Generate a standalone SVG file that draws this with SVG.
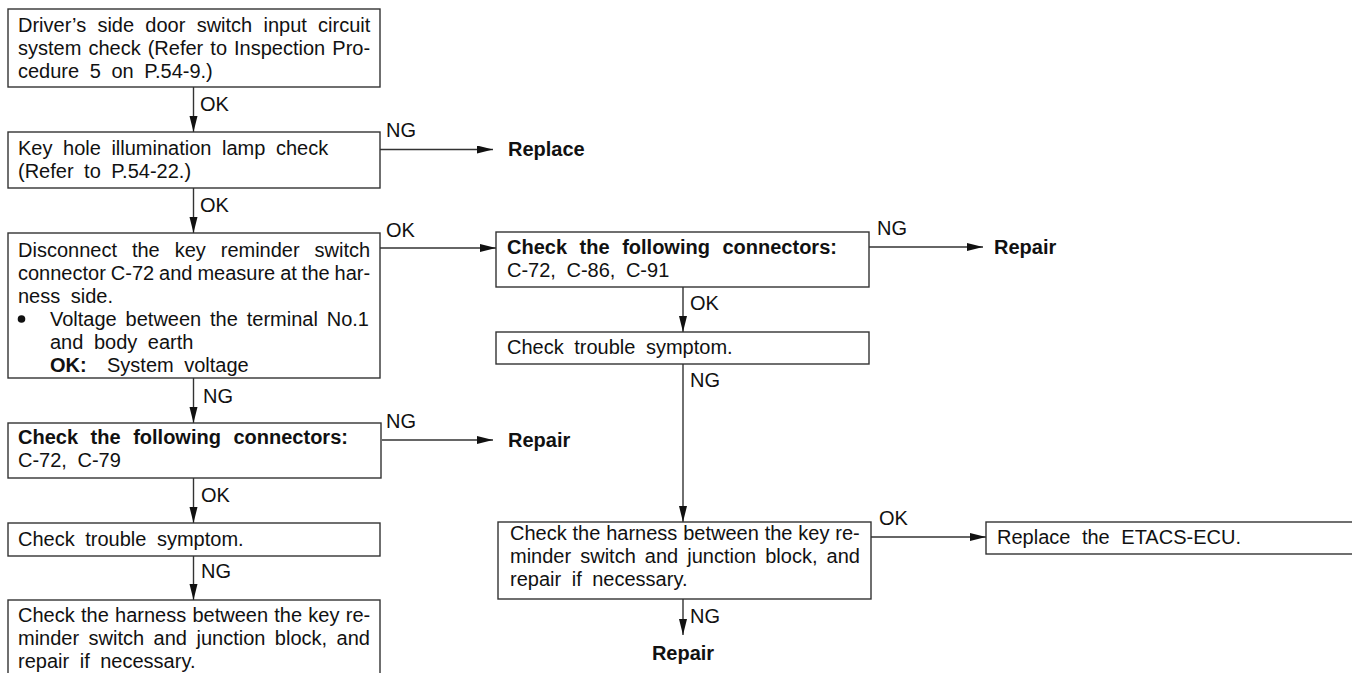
<svg xmlns="http://www.w3.org/2000/svg" width="1352" height="673" viewBox="0 0 1352 673">
<style>
text{font-family:"Liberation Sans",Arial,Helvetica,sans-serif;font-size:20px;fill:#111;word-spacing:5px}
.b{font-weight:bold}
.box{fill:#fff;stroke:#333;stroke-width:1.4}
.c{stroke:#333;stroke-width:1.4;fill:none;marker-end:url(#ah)}
</style>
<defs>
<marker id="ah" markerUnits="userSpaceOnUse" markerWidth="17" markerHeight="9" refX="16" refY="4" orient="auto">
<path d="M0,0 L16,4 L0,8 z" fill="#111"/>
</marker>
</defs>
<rect width="1352" height="673" fill="#fff"/>

<g id="connectors">
<line class="c" x1="193.5" y1="87" x2="193.5" y2="132"/>
<line class="c" x1="380" y1="149.5" x2="493" y2="149.5"/>
<line class="c" x1="193.5" y1="188" x2="193.5" y2="233"/>
<line class="c" x1="380" y1="248" x2="496" y2="248"/>
<line class="c" x1="869" y1="247" x2="983" y2="247"/>
<line class="c" x1="683" y1="287" x2="683" y2="332"/>
<line class="c" x1="683" y1="364" x2="683" y2="522"/>
<line class="c" x1="871" y1="537" x2="986" y2="537"/>
<line class="c" x1="683" y1="599" x2="683" y2="635"/>
<line class="c" x1="193.5" y1="378" x2="193.5" y2="423"/>
<line class="c" x1="382" y1="440" x2="493" y2="440"/>
<line class="c" x1="193.5" y1="478" x2="193.5" y2="523"/>
<line class="c" x1="193.5" y1="556" x2="193.5" y2="600"/>
<text x="200" y="111">OK</text>
<text x="386" y="137">NG</text>
<text x="200" y="212">OK</text>
<text x="386" y="237">OK</text>
<text x="877" y="235">NG</text>
<text x="690" y="310">OK</text>
<text x="690" y="387">NG</text>
<text x="203" y="403">NG</text>
<text x="386" y="428">NG</text>
<text x="201" y="502">OK</text>
<text x="201" y="578">NG</text>
<text x="879" y="525">OK</text>
<text x="690" y="623">NG</text>
</g>

<g id="n1">
<rect class="box" x="8" y="9" width="372" height="78"/>
<text x="18" y="32" style="word-spacing:5.7px">Driver’s side door switch input circuit</text>
<text x="18" y="55" style="word-spacing:1.5px">system check (Refer to Inspection Pro-</text>
<text x="18" y="78">cedure 5 on P.54-9.)</text>
</g>

<g id="n2">
<rect class="box" x="8" y="132" width="372" height="56"/>
<text x="18" y="155">Key hole illumination lamp check</text>
<text x="18" y="178">(Refer to P.54-22.)</text>
</g>

<g id="r1"><text class="b" x="508" y="156">Replace</text></g>

<g id="n3">
<rect class="box" x="8" y="233" width="372" height="145"/>
<text x="18" y="257" style="word-spacing:9.4px">Disconnect the key reminder switch</text>
<text x="18" y="280" style="word-spacing:-0.6px">connector C-72 and measure at the har-</text>
<text x="18" y="303">ness side.</text>
<circle cx="21.5" cy="319" r="3.8" fill="#111"/>
<text x="50" y="326" style="word-spacing:3.3px">Voltage between the terminal No.1</text>
<text x="50" y="349">and body earth</text>
<text class="b" x="50" y="372">OK:</text>
<text x="107" y="372">System voltage</text>
</g>

<g id="n4">
<rect class="box" x="496" y="232" width="373" height="55"/>
<text class="b" x="507" y="254" style="word-spacing:7px">Check the following connectors:</text>
<text x="507" y="277">C-72, C-86, C-91</text>
</g>

<g id="r2"><text class="b" x="994" y="254">Repair</text></g>

<g id="n5">
<rect class="box" x="496" y="332" width="373" height="32"/>
<text x="507" y="354">Check trouble symptom.</text>
</g>

<g id="n6">
<rect class="box" x="498" y="522" width="373" height="77"/>
<text x="510" y="540" style="word-spacing:0.3px">Check the harness between the key re-</text>
<text x="510" y="563" style="word-spacing:3.5px">minder switch and junction block, and</text>
<text x="510" y="586">repair if necessary.</text>
</g>

<g id="n7">
<rect class="box" x="986" y="522" width="380" height="32"/>
<text x="997" y="544" style="word-spacing:6px">Replace the ETACS-ECU.</text>
</g>

<g id="r3"><text class="b" x="683" y="660" text-anchor="middle">Repair</text></g>

<g id="nC">
<rect class="box" x="8" y="423" width="373" height="55"/>
<text class="b" x="18" y="444" style="word-spacing:7px">Check the following connectors:</text>
<text x="18" y="467">C-72, C-79</text>
</g>

<g id="r4"><text class="b" x="508" y="447">Repair</text></g>

<g id="nD">
<rect class="box" x="8" y="523" width="372" height="33"/>
<text x="18" y="546">Check trouble symptom.</text>
</g>

<g id="nE">
<rect class="box" x="8" y="600" width="372" height="90"/>
<text x="18" y="622" style="word-spacing:0.7px">Check the harness between the key re-</text>
<text x="18" y="645" style="word-spacing:3.9px">minder switch and junction block, and</text>
<text x="18" y="668">repair if necessary.</text>
</g>
</svg>
